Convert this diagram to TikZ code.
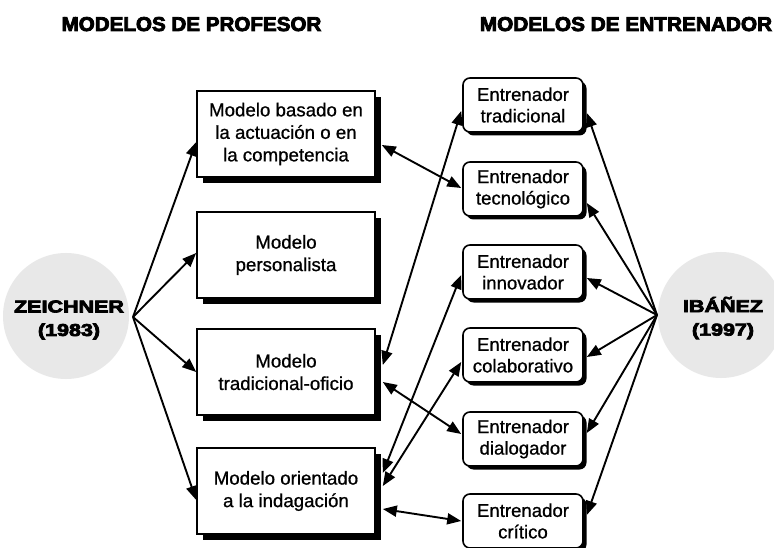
\documentclass[tikz,border=0pt]{standalone}
\usepackage{fontspec}
\setmainfont{Liberation Sans}[FakeBold=0.8]
\newfontfamily\heavyfont[FakeBold=4]{Liberation Sans Bold}
\usetikzlibrary{arrows.meta,shadows,calc}
\definecolor{circgray}{HTML}{E8E8E8}
\tikzset{
  leftbox/.style={draw=black, line width=1.6pt, fill=white, minimum width=178pt, minimum height=86pt,
    align=center, font=\fontsize{18.7}{22.5}\selectfont,
    drop shadow={shadow xshift=6pt, shadow yshift=-6pt, opacity=1, fill=black}},
  rightbox/.style={draw=black, line width=1.6pt, fill=white, rounded corners=7pt, minimum width=120pt, minimum height=54pt,
    align=center, font=\fontsize{18.6}{21.5}\selectfont,
    drop shadow={shadow xshift=3.5pt, shadow yshift=-3.5pt, opacity=1, fill=black}},
  circ/.style={circle, fill=circgray, minimum size=126pt, inner sep=0pt},
  circtext/.style={align=center, font=\heavyfont\fontsize{17.2}{23.5}\selectfont},
  title/.style={anchor=base, font=\heavyfont\fontsize{20}{24}\selectfont},
  conn/.style={line width=1.9pt, -{Triangle[length=14pt,width=11pt]}},
  dconn/.style={line width=1.9pt, {Triangle[length=14pt,width=11pt]}-{Triangle[length=14pt,width=11pt]}}
}
\begin{document}
\begin{tikzpicture}[x=1pt,y=-1pt]
\fill[white] (0,0) rectangle (774,548);
\useasboundingbox (0,0) rectangle (774,548);
\clip (0,0) rectangle (774,548);

% titles
\node[title] (t1) at (191.5,31) {\scalebox{1.03}[1]{MODELOS DE PROFESOR}};
\node[title] (t2) at (626,31) {\scalebox{1.04}[1]{MODELOS DE ENTRENADOR}};

% circles
\node[circ] (zc) at (66,316) {};
\node[circtext] (zt) at (69,320) {\scalebox{1.25}[1]{ZEICHNER}\\\scalebox{1.25}[1]{(1983)}};
\node[circ] (ic) at (721,315) {};
\node[circtext] (it) at (723,318) {\scalebox{1.25}[1]{IBÁÑEZ}\\\scalebox{1.25}[1]{(1997)}};

\coordinate (zo) at (133,317);
\coordinate (io) at (657,315);

% left boxes
\node[leftbox] (b1) at (286,134) {Modelo basado en\\la actuación o en\\la competencia};
\node[leftbox] (b2) at (286,255) {Modelo\\personalista};
\node[leftbox] (b3) at (286,372) {Modelo\\tradicional-oficio};
\node[leftbox] (b4) at (286,491) {Modelo orientado\\a la indagación};

% right boxes
\node[rightbox] (r1) at (523,105) {Entrenador\\tradicional};
\node[rightbox] (r2) at (523,189) {Entrenador\\tecnológico};
\node[rightbox] (r3) at (523,272) {Entrenador\\innovador};
\node[rightbox] (r4) at (523,355) {Entrenador\\colaborativo};
\node[rightbox] (r5) at (523,439) {Entrenador\\dialogador};
\node[rightbox] (r6) at (523,521) {Entrenador\\crítico};

% Zeichner arrows
\draw[conn] (zo) -- ($(b1.west)+(0,8)$);
\draw[conn] (zo) -- ($(b2.west)+(0,-2)$);
\draw[conn] (zo) -- (b3.west);
\draw[conn] (zo) -- ($(b4.west)+(0,9)$);

% Ibanez arrows
\draw[conn] (io) -- ($(r1.east)+(3,8)$);
\draw[conn] (io) -- ($(r2.east)+(3,14)$);
\draw[conn] (io) -- ($(r3.east)+(3,6)$);
\draw[conn] (io) -- ($(r4.east)+(3,2)$);
\draw[conn] (io) -- ($(r5.east)+(3,-6)$);
\draw[conn] (io) -- ($(r6.east)+(3,-6)$);

% middle connections
\draw[dconn] ($(b1.east)+(6,11)$) -- ($(r2.west)+(-1,-1)$);
\draw[dconn] ($(b3.east)+(7,-7)$) -- ($(r1.west)+(-1,6)$);
\draw[dconn] ($(b3.east)+(7,10)$) -- ($(r5.west)+(-1,-5)$);
\draw[dconn] ($(b4.east)+(7,-18)$) -- ($(r3.west)+(-1,3)$);
\draw[dconn] ($(b4.east)+(7,-5)$) -- ($(r4.west)+(-1,7)$);
\draw[dconn] ($(b4.east)+(7,18)$) -- ($(r6.west)+(-1,0)$);
\end{tikzpicture}
\end{document}
